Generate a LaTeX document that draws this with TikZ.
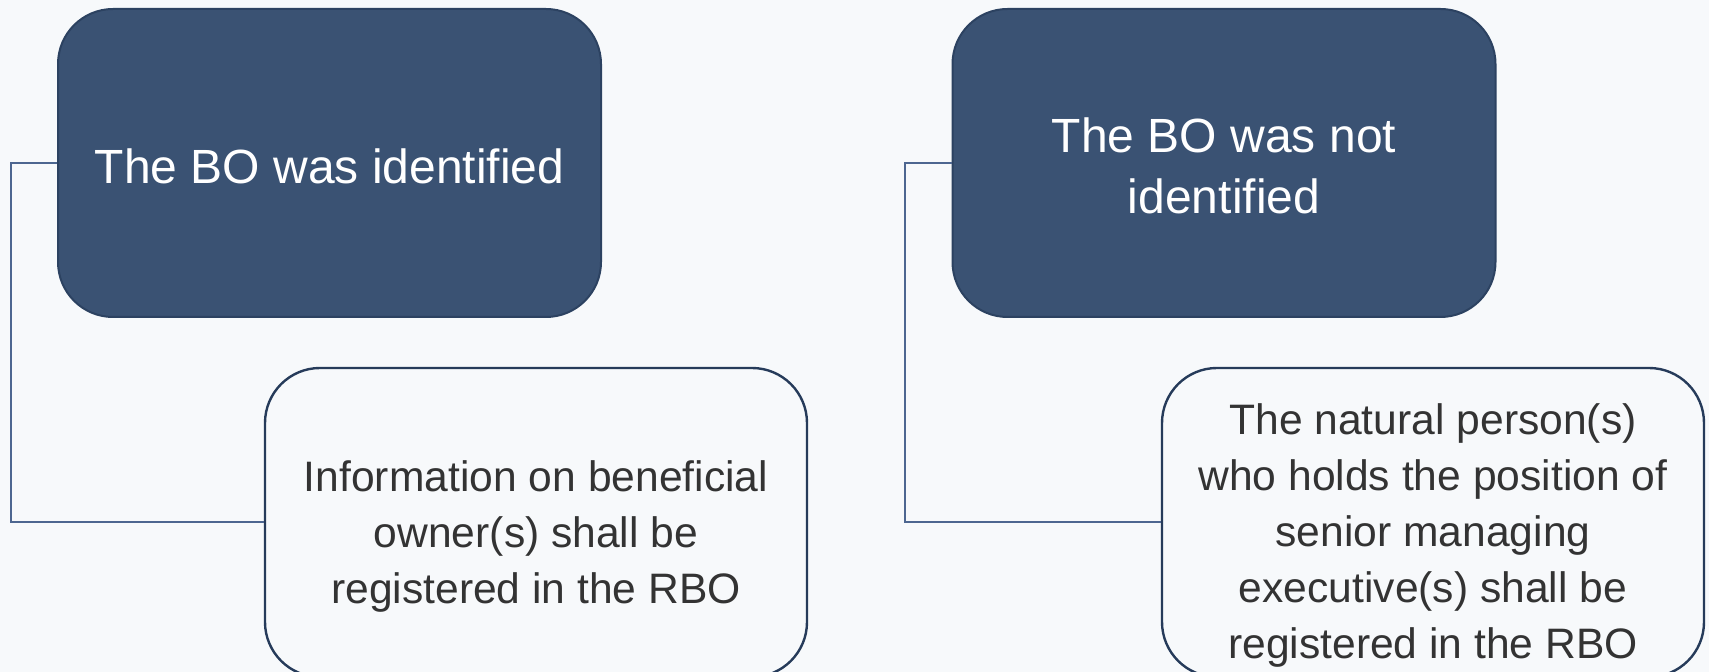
\documentclass[tikz,border=0pt]{standalone}
\usepackage{fontspec}
\setmainfont{Liberation Sans}
\definecolor{pagebg}{HTML}{F7F9FB}
\definecolor{navyfill}{HTML}{3A5273}
\definecolor{navyline}{HTML}{2C4261}
\definecolor{outline}{HTML}{263B5A}
\definecolor{linkline}{HTML}{4D6690}
\definecolor{bodytext}{HTML}{333333}
\begin{document}
\begin{tikzpicture}[x=0.5pt,y=-0.5pt,
  headbox/.style={draw=navyline, line width=1pt, fill=navyfill, rounded corners=27.5pt,
    minimum width=271.5pt, minimum height=154pt, inner sep=0pt},
  headtext/.style={align=center, inner sep=0pt, text=white,
    font=\fontsize{24}{30.5}\selectfont},
  notebox/.style={draw=outline, line width=1.2pt, fill=pagebg, rounded corners=27.5pt,
    minimum width=271pt, minimum height=154.5pt, inner sep=0pt},
  notetext/.style={align=center, inner sep=0pt, text=bodytext,
    font=\fontsize{21.3}{27.9}\selectfont},
  conn/.style={draw=linkline, line width=1pt}]
  % page
  \fill[pagebg] (0,0) rectangle (1709,672);
  \useasboundingbox (0,0) rectangle (1709,672);

  % left branch
  \node[headbox] (tl) at (329.5,163) {};
  \node[headtext] (tltext) at ([yshift=-1.5pt]tl.center) {The BO was identified};
  \node[notebox] (bl) at (536,522.5) {};
  \node[notetext] (bltext) at ([yshift=-7pt]bl.center)
    {Information on beneficial\\owner(s) shall be\\registered in the RBO};
  \coordinate (lrail) at (11,0);
  \draw[conn] (tl.west) -- (tl.west -| lrail) |- (bl.west);

  % right branch
  \node[headbox] (tr) at (1224,163) {};
  \node[headtext] (trtext) at ([yshift=-1.5pt]tr.center) {The BO was not\\identified};
  \node[notebox] (br) at (1433,522.5) {};
  \node[notetext] (brtext) at ([yshift=-6.5pt]br.center)
    {The natural person(s)\\who holds the position of\\senior managing\\executive(s) shall be\\registered in the RBO};
  \coordinate (rrail) at (905,0);
  \draw[conn] (tr.west) -- (tr.west -| rrail) |- (br.west);
\end{tikzpicture}
\end{document}
